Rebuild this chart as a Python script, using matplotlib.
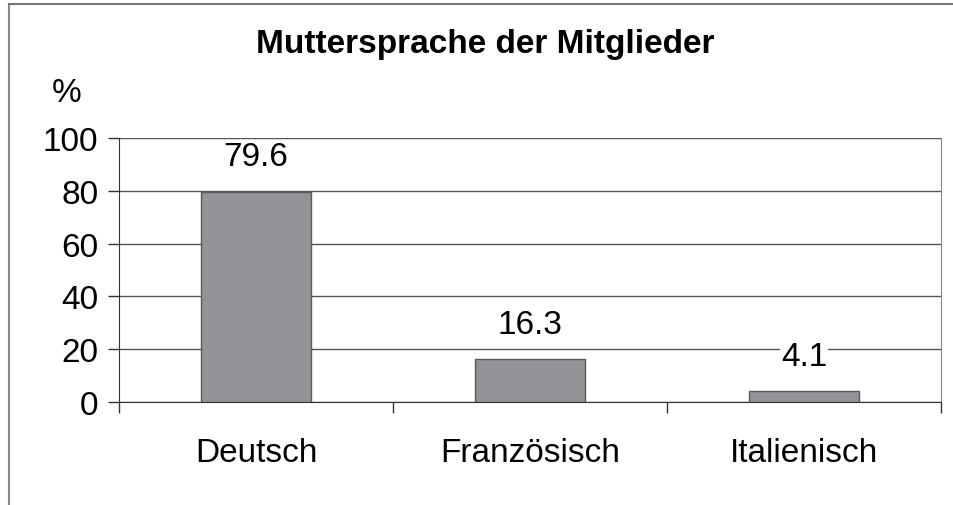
import matplotlib
matplotlib.use("Agg")
import matplotlib.pyplot as plt
from matplotlib.lines import Line2D

categories = ["Deutsch", "Französisch", "Italienisch"]
values = [79.6, 16.3, 4.1]
value_labels = ["79.6", "16.3", "4.1"]
yticks = [0, 20, 40, 60, 80, 100]

plt.rcParams['font.family'] = ['Liberation Sans', 'DejaVu Sans']

fig = plt.figure(figsize=(9.54, 5.06), dpi=100)
ax = fig.add_axes([119/954, 1-403/506, (941-119)/954, (403-139)/506])

x = list(range(len(categories)))
ax.bar(x, values, width=0.4, color='#939398', edgecolor='#5a5a5a', linewidth=1.0, zorder=3)

ax.set_xlim(-0.5, len(categories) - 0.5)
ax.set_ylim(0, 100)
ax.set_yticks(yticks)
ax.set_yticklabels([str(t) for t in yticks], fontsize=24)
ax.yaxis.grid(True, color='#555555', linewidth=1.0, zorder=0)
ax.set_axisbelow(True)

ax.set_xticks(x)
ax.set_xticklabels(categories, fontsize=24)
ax.set_xticks([i - 0.5 for i in range(len(categories) + 1)], minor=True)
ax.tick_params(axis='x', which='major', length=0, pad=25)
ax.tick_params(axis='x', which='minor', length=8, width=1, color='#333333', direction='out')
ax.tick_params(axis='y', length=8, width=1, color='#333333', pad=7, direction='out')

ax.spines['top'].set_visible(False)
ax.spines['right'].set_color('#888888')
ax.spines['left'].set_color('#333333')
ax.spines['bottom'].set_color('#333333')

for xi, v, lab in zip(x, values, value_labels):
    ax.annotate(lab, (xi, v), xytext=(0, 14), textcoords='offset points',
                ha='center', va='bottom', fontsize=24,
                bbox=dict(facecolor='white', edgecolor='none', pad=0.5), zorder=4)

fig.text(485/954, 1-45/506, "Muttersprache der Mitglieder", ha='center', va='center',
         fontsize=24, fontweight='bold')
fig.text(67/954, 1-93/506, "%", ha='center', va='center', fontsize=24)

# figure frame (left and top)
fig.add_artist(Line2D([9/954, 9/954], [0, 1-5/506], transform=fig.transFigure, color='#888888', linewidth=1.5))
fig.add_artist(Line2D([9/954, 1], [1-5/506, 1-5/506], transform=fig.transFigure, color='#777777', linewidth=1.5))

fig.savefig("out.png", dpi=100)
